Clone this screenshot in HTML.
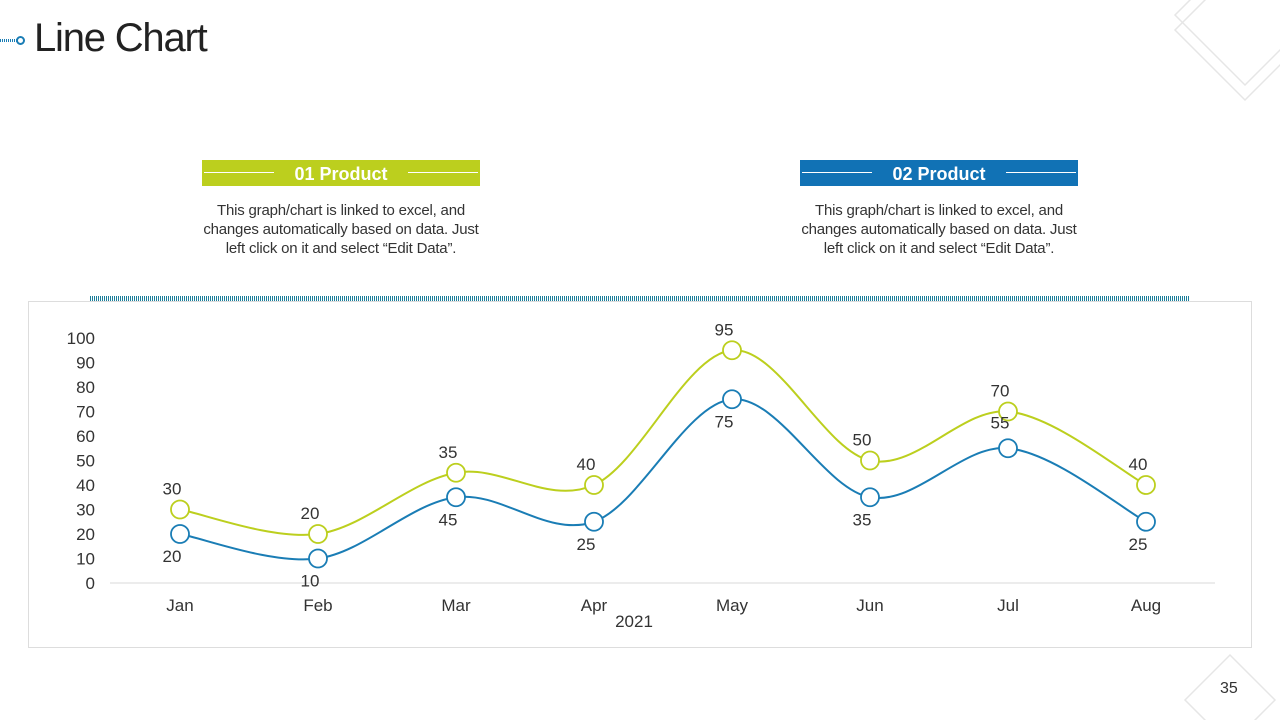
<!DOCTYPE html>
<html><head><meta charset="utf-8"><style>
body{margin:0;width:1280px;height:720px;background:#fff;font-family:"Liberation Sans",sans-serif;position:relative;overflow:hidden}
.abs{position:absolute}
.title{left:34px;top:16px;font-size:40px;color:#222;letter-spacing:-1.2px}
.hdr{height:26px;color:#fff;font-weight:bold;font-size:18px;text-align:center;line-height:28px}
.desc{font-size:15px;color:#333;text-align:center;line-height:19px;width:298px;letter-spacing:-0.2px}
</style></head><body>
<div class="abs" style="left:0;top:39px;width:18px;height:3px;background:repeating-linear-gradient(90deg,#1a7db5 0 1px,#fff 1px 2px)"></div>
<div class="abs" style="left:16px;top:36px;width:5px;height:5px;border:2px solid #1a7db5;border-radius:50%"></div>
<div class="abs title">Line Chart</div>
<svg class="abs" style="left:1140px;top:0" width="140" height="120"><path d="M35,15 L105,-55 L175,15 L105,85 Z M35,30 L105,-40 L175,30 L105,100 Z" fill="none" stroke="#e6e6e6" stroke-width="1.5"/></svg>
<svg class="abs" style="left:1180px;top:650px" width="100" height="70"><path d="M5,50 L50,5 L95,50 L50,95 Z" fill="none" stroke="#e6e6e6" stroke-width="1.5"/></svg>
<div class="abs hdr" style="left:202px;top:160px;width:278px;background:#bccf1e">01 Product
<div class="abs" style="left:2px;top:12px;width:70px;height:1px;background:#fff"></div>
<div class="abs" style="left:206px;top:12px;width:70px;height:1px;background:#fff"></div></div>
<div class="abs desc" style="left:192px;top:201px">This graph/chart is linked to excel, and changes automatically based on data. Just left click on it and select “Edit Data”.</div>
<div class="abs hdr" style="left:800px;top:160px;width:278px;background:#1172b5">02 Product
<div class="abs" style="left:2px;top:12px;width:70px;height:1px;background:#fff"></div>
<div class="abs" style="left:206px;top:12px;width:70px;height:1px;background:#fff"></div></div>
<div class="abs desc" style="left:790px;top:201px">This graph/chart is linked to excel, and changes automatically based on data. Just left click on it and select “Edit Data”.</div>
<div class="abs" style="left:90px;top:296px;width:1100px;height:6px;background:repeating-linear-gradient(90deg,#1a7d9a 0 1px,#fff 1px 2px)"></div>
<div class="abs" style="left:28px;top:301px;width:1224px;height:347px;border:1px solid #ddd;box-sizing:border-box"></div>
<svg class="abs" id="chart" style="left:0;top:0" width="1280" height="720"></svg>
<div class="abs" style="left:1220px;top:680px;font-size:16px;color:#333">35</div>
<script>
const categories=["Jan","Feb","Mar","Apr","May","Jun","Jul","Aug"];
const series1=[30,20,45,40,95,50,70,40];
const series2=[20,10,35,25,75,35,55,25];
const labels1=["30","20","35","40","95","50","70","40"];
const labels2=["20","10","45","25","75","35","55","25"];
const labelPos2=["below","below","below","below","below","below","above","below"];
const yTicks=[0,10,20,30,40,50,60,70,80,90,100];
const svg=document.getElementById('chart');
const NS="http://www.w3.org/2000/svg";
const x=i=>180+i*138, y=v=>583-v*2.45;
function mk(t,a,txt){const e=document.createElementNS(NS,t);for(const k in a)e.setAttribute(k,a[k]);if(txt!=null)e.textContent=txt;svg.appendChild(e);return e;}
const ax=mk('line',{x1:110,x2:1215,y1:583,y2:583,stroke:'#d9d9d9'});


yTicks.forEach(v=>{const t=mk('text',{x:95,y:y(v)+6,'text-anchor':'end','font-size':17,fill:'#333'},v);

});
categories.forEach((c,i)=>{const t=mk('text',{x:x(i),y:611,'text-anchor':'middle','font-size':17,fill:'#333'},c);

});
const yr=mk('text',{x:634,y:627,'text-anchor':'middle','font-size':17,fill:'#333'},'2021');


function path(d){const p=d.map((v,i)=>[x(i),y(v)]);let s=`M${p[0][0]},${p[0][1]}`;
for(let i=0;i<p.length-1;i++){const p0=p[Math.max(i-1,0)],p1=p[i],p2=p[i+1],p3=p[Math.min(i+2,p.length-1)];
s+=` C${p1[0]+(p2[0]-p0[0])/6},${p1[1]+(p2[1]-p0[1])/6} ${p2[0]-(p3[0]-p1[0])/6},${p2[1]-(p3[1]-p1[1])/6} ${p2[0]},${p2[1]}`;}return s;}
[[series1,'#bccf1e','product-01'],[series2,'#1a7db5','product-02']].forEach(([d,c,n])=>{
const l=mk('path',{d:path(d),fill:'none',stroke:c,'stroke-width':2});


d.forEach((v,i)=>{const m=mk('circle',{cx:x(i),cy:y(v),r:9,fill:'#fff',stroke:c,'stroke-width':1.8});

});});
series1.forEach((v,i)=>{const t=mk('text',{x:x(i)-8,y:y(v)-15,'text-anchor':'middle','font-size':17,fill:'#333'},labels1[i]);

});
series2.forEach((v,i)=>{const up=labelPos2[i]==='above';const t=mk('text',{x:x(i)-8,y:up?y(v)-20:y(v)+28,'text-anchor':'middle','font-size':17,fill:'#333'},labels2[i]);

});
</script>
</body></html>
